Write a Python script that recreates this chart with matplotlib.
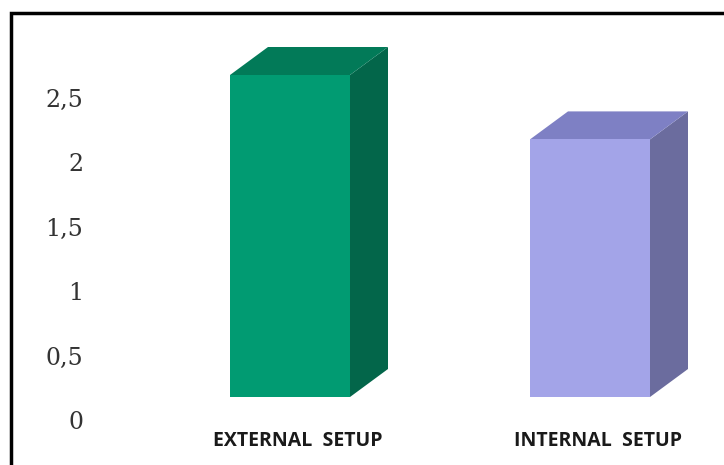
import matplotlib
matplotlib.use("Agg")
import matplotlib.pyplot as plt
from matplotlib.patches import Polygon, Rectangle

categories = ["EXTERNAL  SETUP", "INTERNAL  SETUP"]
values = [2.5, 2.0]
yticks = [0, 0.5, 1, 1.5, 2, 2.5]
ytick_labels = ["0", "0,5", "1", "1,5", "2", "2,5"]

# front / top / side shades for each bar
front_colors = ["#019b72", "#a3a4e8"]
top_colors = ["#027a58", "#7e80c4"]
side_colors = ["#03664a", "#6b6c9e"]

W, H, DPI = 724, 465, 100
fig = plt.figure(figsize=(W / DPI, H / DPI), dpi=DPI)
fig.patch.set_facecolor("white")

# axes box in pixels: value 0 sits 45px above the bottom, 128.8px per unit
left_px, right_px = 100, 710
bottom_px, top_px = 45, 45 + 3 * 128.8
ax = fig.add_axes([left_px / W, bottom_px / H,
                   (right_px - left_px) / W, (top_px - bottom_px) / H])
xlim = (-190 / 300, 420 / 300)
ylim = (0, 3)
ax.set_xlim(*xlim)
ax.set_ylim(*ylim)

px_x = (right_px - left_px) / (xlim[1] - xlim[0])
px_y = (top_px - bottom_px) / (ylim[1] - ylim[0])

bar_w = 120 / px_x          # front face width
dx = 38 / px_x              # depth shift right
dy = 28 / px_y              # depth shift up
lift = 23 / px_y            # floor sits a little above the zero label

for i, v in enumerate(values):
    x0, x1 = i - bar_w / 2, i + bar_w / 2
    y0, y1 = lift, lift + v
    top = Polygon([(x0, y1), (x1, y1), (x1 + dx, y1 + dy), (x0 + dx, y1 + dy)],
                  closed=True, facecolor=top_colors[i], edgecolor="none")
    side = Polygon([(x1, y0), (x1 + dx, y0 + dy), (x1 + dx, y1 + dy), (x1, y1)],
                   closed=True, facecolor=side_colors[i], edgecolor="none")
    front = Rectangle((x0, y0), bar_w, v, facecolor=front_colors[i],
                      edgecolor="none")
    for p in (side, top, front):
        ax.add_patch(p)
    ax.text(i + 0.025, -0.16, categories[i], ha="center", va="center",
            fontsize=14, fontweight="bold", family="Open Sans",
            color="#1a1a1a")

ax.set_yticks(yticks)
ax.set_yticklabels(ytick_labels, family="DejaVu Serif", fontsize=17,
                   color="#333333")
ax.tick_params(axis="y", length=0, pad=12)
ax.set_xticks([])
for s in ax.spines.values():
    s.set_visible(False)
ax.patch.set_alpha(0)

# outer frame, running off the right and bottom edges
fig.patches.append(Rectangle((10.5 / W, -0.1), 1.2, (H - 13.5) / H + 0.1,
                             transform=fig.transFigure, fill=False,
                             edgecolor="black", linewidth=2.5))

fig.savefig("out.png", dpi=DPI)
